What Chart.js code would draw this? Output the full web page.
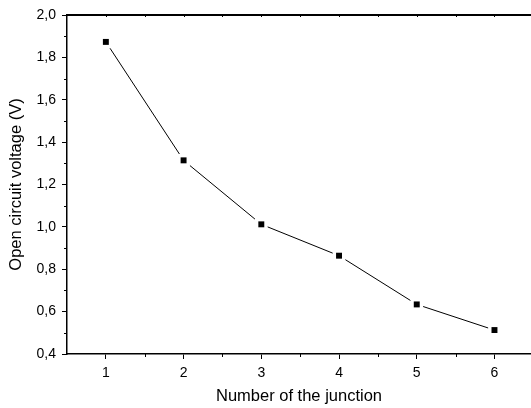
<!DOCTYPE html>
<html>
<head>
<meta charset="utf-8">
<script src="https://cdn.jsdelivr.net/npm/chart.js@4"></script>
<style>
html,body{margin:0;padding:0;background:#fff;overflow:hidden;}
canvas{display:block;}
</style>
</head>
<body>
<canvas id="chart" width="531" height="408"></canvas>
<script>
// data
const junctions = [1, 2, 3, 4, 5, 6];
const voltage = [1.873, 1.314, 1.012, 0.864, 0.634, 0.513];
const yTicks = [0.4, 0.6, 0.8, 1.0, 1.2, 1.4, 1.6, 1.8, 2.0];

const points = junctions.map((x, i) => ({x: x, y: voltage[i]}));

// minor ticks and top frame, Origin style
const frame = {
    id: 'frame',
    afterDraw(chart){
        const ctx = chart.ctx;
        const xs = chart.scales.x;
        const ys = chart.scales.y;
        const a = chart.chartArea;
        ctx.save();
        ctx.strokeStyle = '#000';
        ctx.lineWidth = 1;
        ctx.beginPath();
        // x minor ticks
        for(let v = 1.5; v < 6.5; v += 1){
            let px = Math.round(xs.getPixelForValue(v)) + 0.5;
            ctx.moveTo(px, a.bottom);
            ctx.lineTo(px, a.bottom + 3);
        }
        // top ticks
        for(let v = 1; v < 6.5; v += 0.5){
            let px = Math.round(xs.getPixelForValue(v)) + 0.5;
            ctx.moveTo(px, a.top);
            ctx.lineTo(px, a.top + 2);
        }
        // y minor ticks
        for(let v = 0.5; v < 2.0; v += 0.2){
            let py = Math.round(ys.getPixelForValue(v)) + 0.5;
            ctx.moveTo(a.left, py);
            ctx.lineTo(a.left - 3, py);
        }
        ctx.stroke();
        ctx.lineWidth = 2;
        ctx.beginPath();
        ctx.moveTo(a.left, a.top);
        ctx.lineTo(chart.width, a.top);
        ctx.stroke();
        ctx.restore();
    }
};

new Chart(document.getElementById('chart'), {
    type: 'scatter',
    data: {
        datasets: [
            {
                // black markers on top
                data: points,
                showLine: false,
                pointStyle: 'rect',
                pointRadius: 4.2,
                pointBackgroundColor: '#000',
                pointBorderWidth: 0
            },
            {
                // line with white halo round each point
                data: points,
                showLine: true,
                borderColor: '#000',
                borderWidth: 1,
                pointStyle: 'rect',
                pointRadius: 9,
                pointBackgroundColor: '#fff',
                pointBorderWidth: 0
            }
        ]
    },
    options: {
        responsive: false,
        animation: false,
        layout: {autoPadding: false, padding: {top: 15, right: 0, left: 0, bottom: 0}},
        plugins: {legend: {display: false}, tooltip: {enabled: false}},
        scales: {
            x: {
                type: 'linear',
                min: 0.5,
                max: 6.47,
                afterBuildTicks: s => { s.ticks = junctions.map(v => ({value: v})); },
                afterFit: s => { s.height = 54; s.paddingLeft = 0; s.paddingRight = 0; },
                grid: {drawOnChartArea: false, tickLength: 5, color: '#000', tickWidth: 1},
                border: {color: '#000', width: 1.5},
                ticks: {
                    color: '#000',
                    padding: 6,
                    font: {family: 'Liberation Sans, Arial', size: 14}
                },
                title: {
                    display: true,
                    text: 'Number of the junction',
                    color: '#000',
                    padding: {top: 0, bottom: 2},
                    font: {family: 'Liberation Sans, Arial', size: 16.5}
                }
            },
            y: {
                min: 0.4,
                max: 2.0,
                afterBuildTicks: s => { s.ticks = yTicks.map(v => ({value: v})); },
                afterFit: s => { s.width = 67; },
                grid: {drawOnChartArea: false, tickLength: 5, color: '#000', tickWidth: 1},
                border: {color: '#000', width: 1.5},
                ticks: {
                    color: '#000',
                    padding: 6,
                    font: {family: 'Liberation Sans, Arial', size: 14},
                    callback: v => v.toFixed(1).replace('.', ',')
                },
                title: {
                    display: true,
                    text: 'Open circuit voltage (V)',
                    color: '#000',
                    padding: {top: 7, bottom: 0},
                    font: {family: 'Liberation Sans, Arial', size: 16.5}
                }
            }
        }
    },
    plugins: [frame]
});
</script>
</body>
</html>
